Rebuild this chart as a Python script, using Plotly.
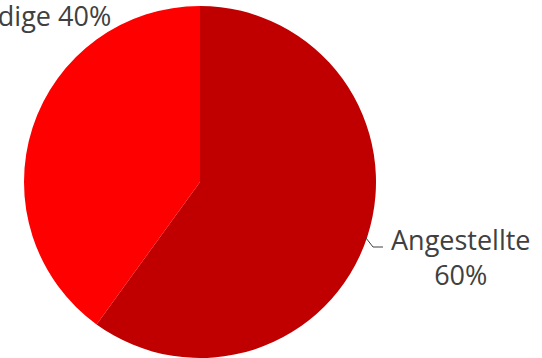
import plotly.graph_objects as go

labels = ["Angestellte", "Selbstständige"]
values = [60, 40]
colors = ["#C00000", "#FF0000"]

W, H = 542, 358
cx, cy, r = 200, 182, 176

fig = go.Figure(go.Pie(
    labels=labels, values=values, sort=False, direction="clockwise", rotation=0,
    marker=dict(colors=colors, line=dict(width=0)),
    textinfo="none", hoverinfo="label+percent",
    domain=dict(x=[(cx - r) / W, (cx + r) / W], y=[(H - cy - r) / H, (H - cy + r) / H]),
))

total = sum(values)
pct = [f"{round(v / total * 100)}%" for v in values]
font = dict(family="Open Sans", size=27, color="#404040")
fig.add_annotation(x=461 / W, y=1 - 257 / H, xref="paper", yref="paper",
                   text=f"{labels[0]}<br>{pct[0]}", showarrow=False, font=font,
                   xanchor="center", yanchor="middle", align="center")
fig.add_annotation(x=113 / W, y=1 - 15 / H, xref="paper", yref="paper",
                   text=f"{labels[1]} {pct[1]}", showarrow=False, font=font,
                   xanchor="right", yanchor="middle")
# leader line
fig.add_shape(type="path", xref="paper", yref="paper",
              path=f"M {366/W} {1-238/H} L {373/W} {1-247/H} L {383/W} {1-247/H}",
              line=dict(color="#404040", width=1))

fig.update_layout(width=W, height=H, margin=dict(l=0, r=0, t=0, b=0),
                  showlegend=False, paper_bgcolor="white", plot_bgcolor="white")
fig.write_html("out.html")
